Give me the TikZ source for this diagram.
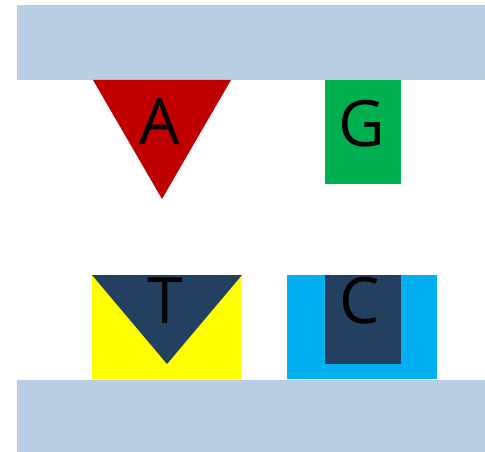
\documentclass[tikz,border=0pt]{standalone}
\usepackage{fontspec}
\setmainfont{Open Sans}
\definecolor{barfill}{RGB}{185,205,229}
\definecolor{afill}{RGB}{192,0,0}
\definecolor{gfill}{RGB}{0,176,80}
\definecolor{tfill}{RGB}{255,255,0}
\definecolor{cfill}{RGB}{0,176,240}
\definecolor{darkfill}{RGB}{36,64,96}
\begin{document}
\begin{tikzpicture}[
  x=0.75pt, y=-0.75pt,
  base/.style={font=\fontsize{48}{48}\selectfont, text=black, inner sep=0pt}
]
\useasboundingbox (0,0) rectangle (485,452);

% backbone bars
\fill[barfill] (17,5) rectangle (485,80);
\fill[barfill] (17,380) rectangle (485,452);

% A
\fill[afill] (93,80) -- (231,80) -- (162,199) -- cycle;
\node[base] (a) at (160,122) {A};

% G
\fill[gfill] (325,80) rectangle (401,184);
\node[base] (g) at (362,124) {G};

% T
\fill[tfill] (92,275) rectangle (241,379);
\fill[darkfill] (92,275) -- (242,275) -- (167,364) -- cycle;
\node[base] (t) at (165,301) {T};

% C
\fill[cfill] (287,275) rectangle (437,379);
\fill[darkfill] (325,275) rectangle (401,364);
\node[base] (c) at (360,301) {C};

\end{tikzpicture}
\end{document}
